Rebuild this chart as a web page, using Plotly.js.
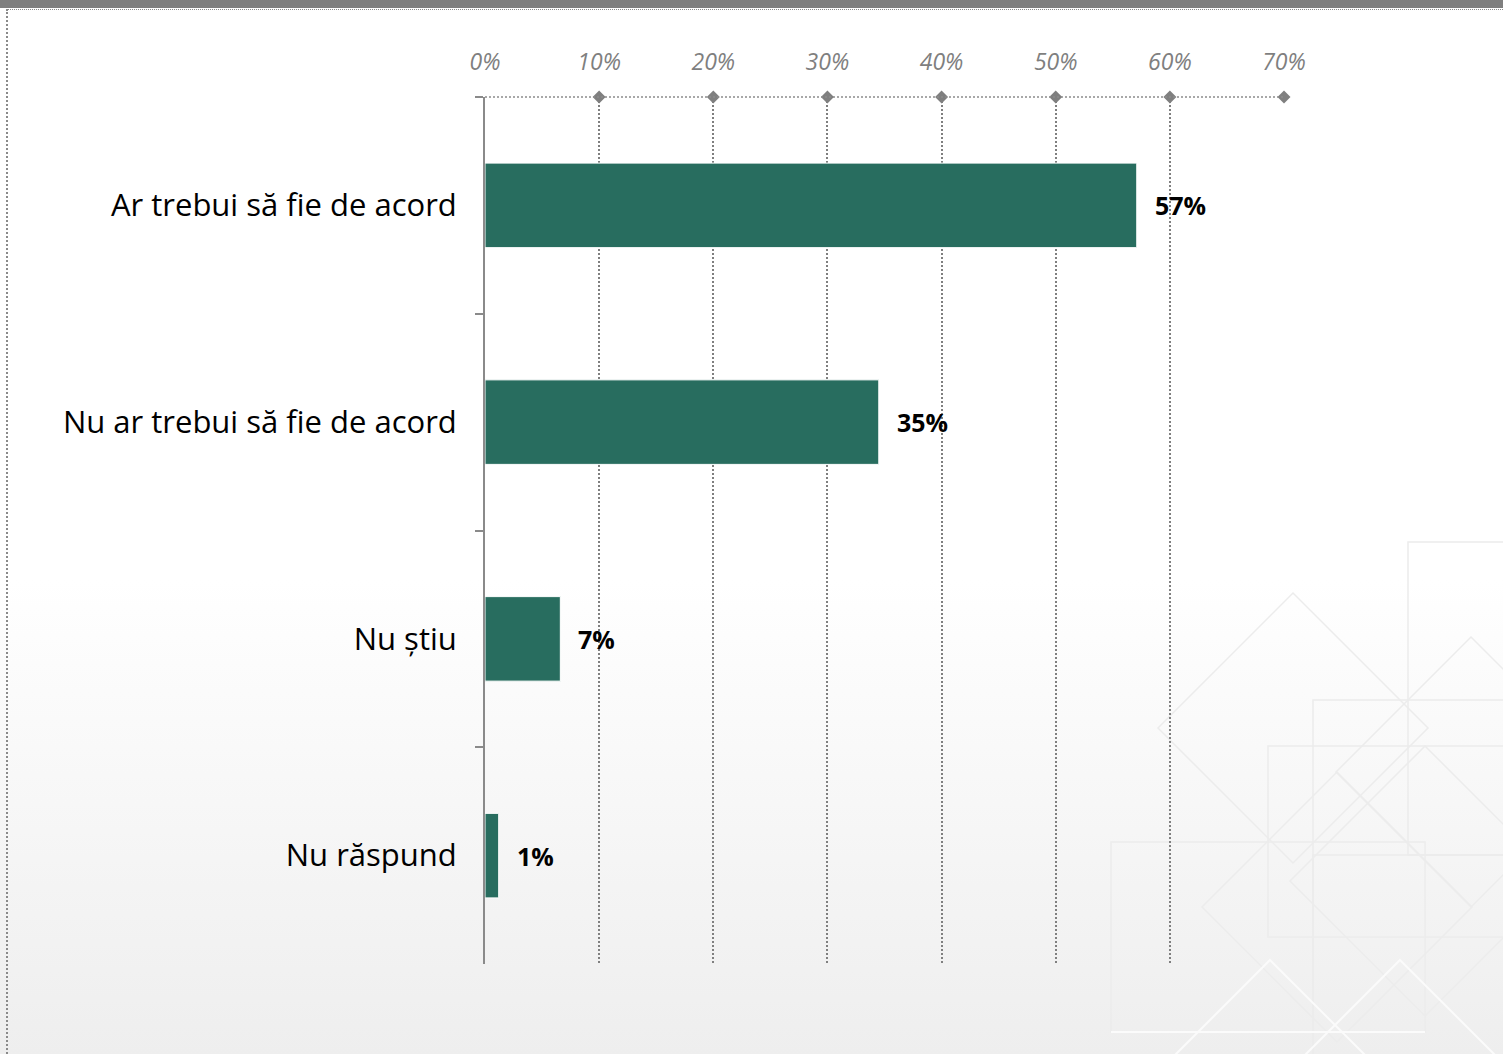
<!DOCTYPE html>
<html>
<head>
<meta charset="utf-8">
<script src="https://cdn.plot.ly/plotly-3.0.1.min.js"></script>
<style>
  html, body { margin:0; padding:0; }
  body { width:1503px; height:1054px; position:relative; overflow:hidden;
         background: linear-gradient(to bottom, #ffffff 0%, #ffffff 55%, #eeeeee 100%); font-family: "Open Sans", sans-serif; }
  #topbar { position:absolute; left:0; top:0; width:1503px; height:8px; background:#7f7f7f; }
  #frame { position:absolute; left:6px; top:9px; width:1497px; height:1045px;
           border-top:1px dotted #8a8a8a; border-left:2px dotted #8a8a8a; box-sizing:border-box; }
  #deco { position:absolute; left:0; top:0; }
  #chart { position:absolute; left:0; top:0; width:1503px; height:1054px; }
</style>
</head>
<body>
<div id="topbar"></div>
<div id="frame"></div>
<svg id="deco" width="1503" height="1054" xmlns="http://www.w3.org/2000/svg">
  <g fill="none" stroke="#ececec" stroke-width="1.5">
    <rect x="1408" y="542" width="110" height="313"/>
    <rect x="1313" y="700" width="200" height="360"/>
    <rect x="1268" y="746" width="250" height="191"/>
    <rect x="1111" y="842" width="314" height="190"/>
    <rect x="1313" y="855" width="200" height="200"/>
    <polygon points="1293,593 1428,728 1293,863 1158,728"/>
    <polygon points="1471,637 1606,772 1471,907 1336,772"/>
    <polygon points="1337,772 1472,907 1337,1042 1202,907"/>
    <polygon points="1425,746 1560,881 1425,1016 1290,881"/>
  </g>
  <g fill="none" stroke="#fbfbfb" stroke-width="2">
    <line x1="1111" y1="1032" x2="1425" y2="1032"/>
    <polygon points="1270,960 1380,1070 1270,1180 1160,1070"/>
    <polygon points="1400,960 1510,1070 1400,1180 1290,1070"/>
  </g>
</svg>
<div id="chart"></div>
<script>
  var categories = ["Ar trebui să fie de acord", "Nu ar trebui să fie de acord", "Nu știu", "Nu răspund"];
  var values = [57.1, 34.5, 6.6, 1.2];
  var valueLabels = ["57%", "35%", "7%", "1%"];
  var tickValues = [0, 10, 20, 30, 40, 50, 60, 70];
  var tickLabels = ["0%", "10%", "20%", "30%", "40%", "50%", "60%", "70%"];

  var bars = {
    type: "bar", orientation: "h",
    x: values, y: categories,
    marker: { color: "#286d5f", line: { color: "#ffffff", width: 1 } },
    hoverinfo: "none"
  };
  var diamonds = {
    type: "scatter", mode: "markers",
    x: tickValues.slice(1), y: tickValues.slice(1).map(function(){ return 1; }),
    yaxis: "y2",
    marker: { symbol: "diamond", size: 10, color: "#7f7f7f" },
    cliponaxis: false, hoverinfo: "none"
  };

  var annotations = categories.map(function(c, i) {
    return { x: values[i], y: c, xref: "x", yref: "y", text: valueLabels[i],
             showarrow: false, xanchor: "left", yanchor: "middle", xshift: 16,
             font: { family: "Open Sans", size: 25, color: "#000000", weight: "bold" } };
  });

  var layout = {
    width: 1503, height: 1054, autosize: false,
    margin: { l: 485, r: 219, t: 97, b: 90, pad: 0 },
    paper_bgcolor: "rgba(0,0,0,0)", plot_bgcolor: "rgba(0,0,0,0)",
    showlegend: false,
    bargap: 0.61,
    xaxis: {
      side: "top", range: [0, 70], tickvals: tickValues, ticktext: tickLabels,
      showgrid: true, gridcolor: "#7f7f7f", gridwidth: 2, griddash: "2px,2px",
      zeroline: false, showline: false, ticks: "", ticklabelstandoff: 21,
      tickfont: { family: "Open Sans", size: 23, color: "#7f7f7f", style: "italic" },
      fixedrange: true
    },
    yaxis: {
      type: "category", autorange: "reversed",
      showline: true, linecolor: "#8a8a8a", linewidth: 2,
      ticks: "outside", tickson: "boundaries", ticklen: 8, tickcolor: "#8a8a8a", tickwidth: 2,
      ticklabelstandoff: 20, showgrid: false, zeroline: false,
      tickfont: { family: "Open Sans", size: 31, color: "#000000" },
      fixedrange: true
    },
    yaxis2: { overlaying: "y", range: [0, 1], visible: false, fixedrange: true },
    shapes: [
      { type: "line", xref: "x", yref: "paper", x0: 0, x1: 70, y0: 1, y1: 1,
        line: { color: "#8c8c8c", width: 1.5, dash: "2px,2px" } },
      { type: "line", xref: "paper", yref: "paper", x0: 0, x1: 0, y0: 1, y1: 1, xsizemode: "pixel",
        xanchor: 0, line: { color: "#8a8a8a", width: 2 } },
      { type: "line", xref: "x", yref: "paper", xsizemode: "pixel", xanchor: 0, x0: -9, x1: 0, y0: 1, y1: 1,
        line: { color: "#8a8a8a", width: 2 } },
      { type: "line", xref: "x", yref: "paper", xsizemode: "pixel", xanchor: 0, x0: -9, x1: 0, y0: 0, y1: 0,
        line: { color: "#8a8a8a", width: 2 } }
    ],
    annotations: annotations
  };

  Plotly.newPlot("chart", [bars, diamonds], layout, { staticPlot: true, displayModeBar: false });
</script>
</body>
</html>
